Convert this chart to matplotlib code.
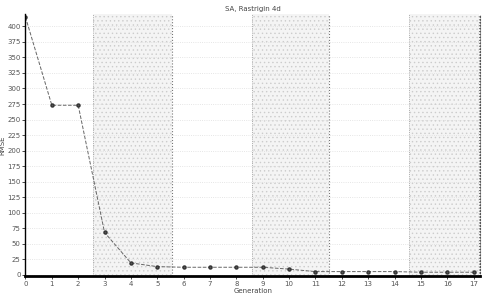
import matplotlib
matplotlib.use("Agg")
import matplotlib.pyplot as plt

# data
gen = list(range(18))
rmse = [415, 273, 273, 68, 19, 13, 12, 12, 12, 12, 9, 5, 5, 5, 5, 4, 4, 4]
xlabels = [str(i) for i in gen]
yticks = list(range(0, 401, 25))
spans = [(2.55, 5.55), (8.6, 11.5), (14.55, 17.2)]

plt.rcParams["font.size"] = 5
plt.rcParams["hatch.color"] = "#c8c8c8"
plt.rcParams["hatch.linewidth"] = 0.5

fig = plt.figure(figsize=(4.9, 2.98), dpi=100)
ax = fig.add_axes([0.052, 0.074, 0.928, 0.879])

for a, b in spans:
    ax.axvspan(a, b, facecolor="#f4f4f4", edgecolor="#cccccc", hatch="....", linewidth=0)
    ax.axvline(a, color="#999999", linestyle=":", linewidth=0.6)
    ax.axvline(b, color="#777777", linestyle=":", linewidth=0.8)

ax.plot(gen, rmse, color="#666666", linestyle="--", linewidth=0.7,
        marker="o", markersize=2.2, markerfacecolor="#555555", markeredgecolor="#333333")

ax.set_xlim(0, 17.25)
ax.set_ylim(-2, 420)
ax.set_xticks(gen)
ax.set_xticklabels(xlabels, color="#555555")
ax.set_yticks(yticks)
ax.set_yticklabels([str(v) for v in yticks], color="#555555")
ax.tick_params(length=2, width=0.5, pad=1.5)
ax.grid(True, axis="y", color="#dddddd", linestyle=":", linewidth=0.6)

ax.spines["left"].set_linewidth(1.0)
ax.spines["bottom"].set_linewidth(2.0)
ax.spines["top"].set_visible(False)
ax.spines["right"].set_linestyle(":")
ax.spines["right"].set_color("#555555")

ax.set_title("SA, Rastrigin 4d", fontsize=5, color="#444444", pad=2)
ax.set_xlabel("Generation", fontsize=5, color="#444444", labelpad=1)
ax.set_ylabel("RMSE", fontsize=5, color="#444444", labelpad=1)

fig.savefig("out.png", dpi=100)
